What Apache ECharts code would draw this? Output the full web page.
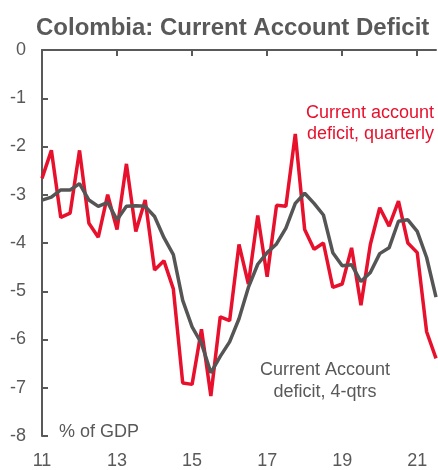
<!DOCTYPE html>
<html>
<head>
<meta charset="utf-8">
<script src="https://cdn.jsdelivr.net/npm/echarts@6/dist/echarts.min.js"></script>
<style>
  html, body { margin: 0; padding: 0; background: #fff; }
  #main { width: 438px; height: 470px; }
</style>
</head>
<body>
<div id="main"></div>
<script>
// quarters 2011Q1 .. 2021Q3
var quarters = [];
for (var y = 11; y <= 21; y++) {
  for (var q = 1; q <= 4; q++) {
    if (y === 21 && q > 3) break;
    quarters.push(y + 'Q' + q);
  }
}

// current account deficit, quarterly (% of GDP)
var quarterly = [
  -2.66, -2.08, -3.47, -3.38, -2.08, -3.59, -3.88, -3.00,
  -3.72, -2.36, -3.76, -3.11, -4.56, -4.37, -4.95, -6.90,
  -6.93, -5.79, -7.17, -5.53, -5.61, -4.03, -4.85, -3.43,
  -4.70, -3.22, -3.24, -1.74, -3.72, -4.13, -4.00, -4.92,
  -4.85, -4.10, -5.29, -4.03, -3.27, -3.65, -3.13, -4.00,
  -4.20, -5.84, -6.39
];

// current account deficit, 4-quarter sum (% of GDP)
var fourQtrs = [
  -3.11, -3.05, -2.90, -2.90, -2.77, -3.11, -3.24, -3.16,
  -3.52, -3.24, -3.23, -3.24, -3.45, -3.89, -4.24, -5.19,
  -5.74, -6.08, -6.69, -6.35, -6.05, -5.57, -4.92, -4.44,
  -4.20, -4.02, -3.69, -3.18, -2.97, -3.18, -3.42, -4.20,
  -4.47, -4.45, -4.80, -4.61, -4.22, -4.10, -3.55, -3.52,
  -3.76, -4.30, -5.12
];

var grey = '#595959';
var red = '#E8112D';
var font = 'Liberation Sans, Arial, sans-serif';

var myChart = echarts.init(document.getElementById('main'));

var option = {
  animation: false,
  title: {
    text: 'Colombia: Current Account Deficit',
    left: 31,
    top: 11,
    textStyle: { color: grey, fontSize: 24, fontWeight: 'bold', fontFamily: font }
  },
  grid: { left: 42, right: 2, top: 50, bottom: 30 },
  xAxis: [{
    // top axis: line and ticks only
    type: 'category',
    position: 'top',
    data: quarters,
    boundaryGap: false,
    axisLine: { lineStyle: { color: grey, width: 2 } },
    axisTick: {
      inside: true, length: 6,
      interval: function (i) { return i % 8 === 0; },
      lineStyle: { color: grey, width: 2 }
    },
    axisLabel: { show: false },
    splitLine: { show: false }
  }, {
    // bottom axis: year labels
    type: 'category',
    position: 'bottom',
    data: quarters,
    boundaryGap: false,
    axisLine: { show: false },
    axisTick: { show: false },
    axisLabel: {
      interval: function (i) { return i % 8 === 0; },
      formatter: function (v) { return v.slice(0, 2); },
      color: grey, fontSize: 18, fontFamily: font, margin: 16
    },
    splitLine: { show: false }
  }],
  yAxis: {
    type: 'value',
    min: -8, max: 0, interval: 1,
    axisLine: { show: true, lineStyle: { color: grey, width: 2 } },
    axisTick: { show: true, inside: true, length: 6, lineStyle: { color: grey, width: 2 } },
    axisLabel: { color: grey, fontSize: 18, fontFamily: font, margin: 16 },
    splitLine: { show: false }
  },
  series: [{
    name: 'Current account deficit, quarterly',
    type: 'line',
    xAxisIndex: 0,
    data: quarterly,
    symbol: 'none',
    lineStyle: { color: red, width: 3.5 },
    z: 2
  }, {
    name: 'Current Account deficit, 4-qtrs',
    type: 'line',
    xAxisIndex: 0,
    data: fourQtrs,
    symbol: 'none',
    lineStyle: { color: '#555555', width: 3.5 },
    z: 3
  }],
  graphic: [{
    type: 'text',
    x: 434, y: 103,
    style: {
      text: 'Current account\ndeficit, quarterly',
      fill: red, font: '18px ' + font, align: 'right', verticalAlign: 'top', lineHeight: 21
    }
  }, {
    type: 'text',
    x: 325, y: 359,
    style: {
      text: 'Current Account\ndeficit, 4-qtrs',
      fill: grey, font: '18px ' + font, align: 'center', verticalAlign: 'top', lineHeight: 22
    }
  }, {
    type: 'text',
    x: 59, y: 423,
    style: { text: '% of GDP', fill: grey, font: '18px ' + font, verticalAlign: 'top' }
  }]
};

myChart.setOption(option);
</script>
</body>
</html>
